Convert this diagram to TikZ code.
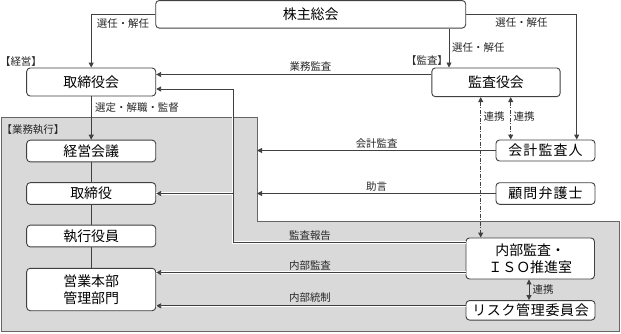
\documentclass[tikz,border=0pt]{standalone}
\usepackage{fontspec}
\newfontfamily\cjk{Noto Sans CJK JP}
\newfontfamily\cjkwide[LetterSpace=8]{Noto Sans CJK JP}
\newfontfamily\cjkmid[LetterSpace=5]{Noto Sans CJK JP}
\usetikzlibrary{arrows.meta}
\begin{document}
\begin{tikzpicture}[x=1bp,y=-1bp,
  box/.style={draw=black!75, line width=0.9bp, rounded corners=3.5bp, fill=white, inner sep=0pt, font=\cjk\fontsize{14}{17}\selectfont, align=center},
  lbl/.style={font=\cjk\fontsize{10.5}{12}\selectfont, inner sep=0pt, text=black!85},
  ln/.style={draw=black!75, line width=0.9bp},
  arr/.style={ln, -{Triangle[length=5bp,width=5bp]}},
  darr/.style={ln, {Triangle[length=5bp,width=5bp]}-{Triangle[length=5bp,width=5bp]}},
  dd/.style={dash pattern=on 4bp off 1.5bp on 1bp off 1.5bp},
  cased/.style={preaction={draw=white, line width=2.6bp, -}}
]
\useasboundingbox (0,0) rectangle (621,333);
\fill[white] (0,0) rectangle (621,333);
\draw[draw=black!60, fill=black!15, line width=1bp] (1,117.7) -- (257,117.7) -- (257,221) -- (619.5,221) -- (619.5,331.5) -- (1,331.5) -- cycle;

% nodes
\node[box, minimum width=310bp, minimum height=27.5bp] (kabu) at (310.7,14.3) {株主総会};
\node[box, minimum width=129bp, minimum height=28bp] (torikai) at (91.2,82) {取締役会};
\node[box, minimum width=128.3bp, minimum height=28.7bp] (kansa) at (496,82.3) {監査役会};
\node[box, minimum width=129bp, minimum height=21.7bp] (keiei) at (91.2,151) {経営会議};
\node[box, minimum width=129bp, minimum height=21.7bp] (torishimari) at (91.2,193.5) {取締役};
\node[box, minimum width=129bp, minimum height=21.7bp] (shikko) at (91.2,236) {執行役員};
\node[box, minimum width=129bp, minimum height=42.4bp] (eigyo) at (91.2,289.5) {営業本部\\管理部門};
\node[box, minimum width=99bp, minimum height=21bp, font=\cjkwide\fontsize{14}{17}\selectfont] (kaikei) at (545.5,150.5) {会計監査人};
\node[box, minimum width=99bp, minimum height=21.6bp, font=\cjkwide\fontsize{14}{17}\selectfont] (komon) at (545.5,193.5) {顧問弁護士};
\node[box, minimum width=128.5bp, minimum height=41bp] (naibu) at (530.2,258.5) {内部監査・\\ＩＳＯ推進室};
\node[box, minimum width=129bp, minimum height=19.5bp, font=\cjkmid\fontsize{14}{17}\selectfont] (risk) at (530.5,310.3) {リスク管理委員会};

% helper coordinates
\coordinate (xa) at (449,0);
\coordinate (xb) at (576.7,0);
\coordinate (xc) at (480.7,0);
\coordinate (xd) at (510.7,0);
\coordinate (xe) at (233,0);
\coordinate (xg) at (257,0);
\coordinate (xr) at (529,0);
\coordinate (ya) at (0,74.5);
\coordinate (yb) at (0,89);
\coordinate (yc) at (0,242.7);
\coordinate (yd) at (0,272.5);
\coordinate (ye) at (0,305.8);

% connectors
\draw[arr] (kabu.west) -| (torikai.north);
\draw[arr] (kabu.south -| xa) -- (kansa.north -| xa);
\draw[arr] (kabu.east) -| (kaikei.north -| xb);
\draw[arr] (kansa.west |- ya) -- (torikai.east |- ya);
\draw[arr] (torikai.south) -- (keiei.north);
\draw[ln] (keiei.south) -- (torishimari.north);
\draw[ln] (torishimari.south) -- (shikko.north);
\draw[ln] (shikko.south) -- (eigyo.north);
\draw[arr] (kaikei.west) -- (kaikei.west -| xg);
\draw[arr] (komon.west) -- (komon.west -| xg);
\draw[darr, dd] (kansa.south -| xc) -- (naibu.north -| xc);
\draw[darr, dd] (kansa.south -| xd) -- (kaikei.north -| xd);
\draw[arr, cased] (naibu.west |- yc) -| (xe |- yb) -- (torikai.east |- yb);
\draw[arr, cased] (xe |- torishimari.east) -- (torishimari.east);
\draw[arr, cased] (naibu.west |- yd) -- (eigyo.east |- yd);
\draw[arr, cased] (risk.west |- ye) -- (eigyo.east |- ye);
\draw[darr] (naibu.south -| xr) -- (risk.north -| xr);

% labels
\node[lbl] (l1) at (123,23.3) {選任・解任};
\node[lbl, anchor=west] (l2) at (452,47.7) {選任・解任};
\node[lbl] (l3) at (521.5,22.7) {選任・解任};
\node[lbl] (l4) at (310.5,66.7) {業務監査};
\node[lbl, anchor=west] (l5) at (95,107.3) {選定・解職・監督};
\node[lbl] (l6) at (376.7,143.3) {会計監査};
\node[lbl] (l7) at (376.7,186.7) {助言};
\node[lbl, anchor=west] (l8) at (483.5,117) {連携};
\node[lbl, anchor=west] (l9) at (513.5,117) {連携};
\node[lbl] (l10) at (310,235.5) {監査報告};
\node[lbl] (l11) at (310,265.5) {内部監査};
\node[lbl] (l12) at (310,297.5) {内部統制};
\node[lbl, anchor=west] (l13) at (532.5,290) {連携};
\node[lbl] (h1) at (21,61.5) {【経営】};
\node[lbl] (h2) at (427,60.7) {【監査】};
\node[lbl] (h3) at (33,130) {【業務執行】};
\end{tikzpicture}
\end{document}
